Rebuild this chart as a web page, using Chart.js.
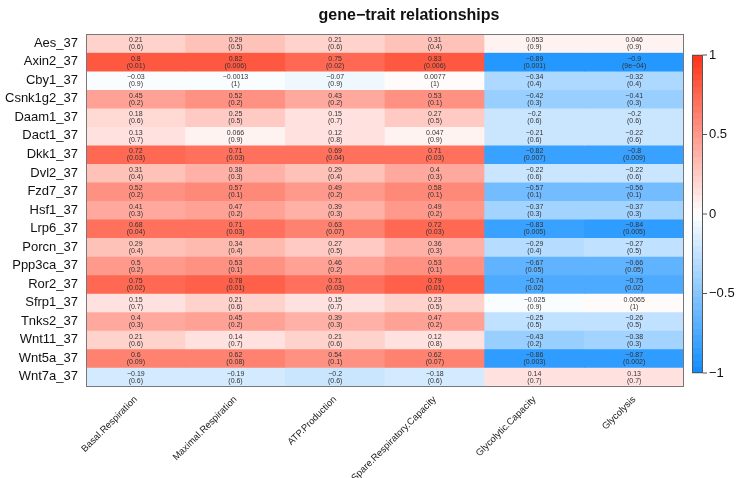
<!DOCTYPE html>
<html>
<head>
<meta charset="utf-8">
<script src="https://cdn.jsdelivr.net/npm/chart.js@4/dist/chart.umd.min.js"></script>
<style>
  html, body { margin: 0; padding: 0; background: #fff; }
  #wrap { width: 745px; height: 478px; }
</style>
</head>
<body>
<div id="wrap"><canvas id="heat"></canvas></div>
<script>
const genes = ['Aes_37', 'Axin2_37', 'Cby1_37', 'Csnk1g2_37', 'Daam1_37', 'Dact1_37', 'Dkk1_37', 'Dvl2_37', 'Fzd7_37', 'Hsf1_37',
  'Lrp6_37', 'Porcn_37', 'Ppp3ca_37', 'Ror2_37', 'Sfrp1_37', 'Tnks2_37', 'Wnt11_37', 'Wnt5a_37', 'Wnt7a_37'];
const traits = ['Basal.Respiration', 'Maximal.Respiration', 'ATP.Production', 'Spare.Respiratory.Capacity', 'Glycolytic.Capacity', 'Glycolysis'];

// correlation per trait (one value per gene, same order as genes)
const basalR = [0.21, 0.8, -0.03, 0.45, 0.18, 0.13, 0.72, 0.31, 0.52, 0.41, 0.68, 0.29, 0.5, 0.75, 0.15, 0.4, 0.21, 0.6, -0.19];
const maximalR = [0.29, 0.82, -0.0013, 0.52, 0.25, 0.066, 0.71, 0.38, 0.57, 0.47, 0.71, 0.34, 0.53, 0.78, 0.21, 0.45, 0.14, 0.62, -0.19];
const atpR = [0.21, 0.75, -0.07, 0.43, 0.15, 0.12, 0.69, 0.29, 0.49, 0.39, 0.63, 0.27, 0.46, 0.71, 0.15, 0.39, 0.21, 0.54, -0.2];
const spareR = [0.31, 0.83, 0.0077, 0.53, 0.27, 0.047, 0.71, 0.4, 0.58, 0.49, 0.72, 0.36, 0.53, 0.79, 0.23, 0.47, 0.12, 0.62, -0.18];
const glycoCapR = [0.053, -0.89, -0.34, -0.42, -0.2, -0.21, -0.82, -0.22, -0.57, -0.37, -0.83, -0.29, -0.67, -0.74, -0.025, -0.25, -0.43, -0.86, 0.14];
const glycoR = [0.046, -0.9, -0.32, -0.41, -0.2, -0.22, -0.8, -0.22, -0.56, -0.37, -0.84, -0.27, -0.66, -0.75, 0.0065, -0.26, -0.38, -0.87, 0.13];

// p-values as printed
const basalP = ['0.6', '0.01', '0.9', '0.2', '0.6', '0.7', '0.03', '0.4', '0.2', '0.3', '0.04', '0.4', '0.2', '0.02', '0.7', '0.3', '0.6', '0.09', '0.6'];
const maximalP = ['0.5', '0.006', '1', '0.2', '0.5', '0.9', '0.03', '0.3', '0.1', '0.2', '0.03', '0.4', '0.1', '0.01', '0.6', '0.2', '0.7', '0.08', '0.6'];
const atpP = ['0.6', '0.02', '0.9', '0.2', '0.7', '0.8', '0.04', '0.4', '0.2', '0.3', '0.07', '0.5', '0.2', '0.03', '0.7', '0.3', '0.6', '0.1', '0.6'];
const spareP = ['0.4', '0.006', '1', '0.1', '0.5', '0.9', '0.03', '0.3', '0.1', '0.2', '0.03', '0.3', '0.1', '0.01', '0.5', '0.2', '0.8', '0.07', '0.6'];
const glycoCapP = ['0.9', '0.001', '0.4', '0.3', '0.6', '0.6', '0.007', '0.6', '0.1', '0.3', '0.005', '0.4', '0.05', '0.02', '0.9', '0.5', '0.2', '0.003', '0.7'];
const glycoP = ['0.9', '9e-04', '0.4', '0.3', '0.6', '0.6', '0.009', '0.6', '0.1', '0.3', '0.005', '0.5', '0.05', '0.02', '1', '0.5', '0.3', '0.002', '0.7'];

const colorbarTicks = [1, 0.5, 0, -0.5, -1];

const corr = [basalR, maximalR, atpR, spareR, glycoCapR, glycoR];
const pvals = [basalP, maximalP, atpP, spareP, glycoCapP, glycoP];

const FONT = '"Liberation Sans", Arial, Helvetica, sans-serif';
const blueEnd = [13, 140, 255];
const redEnd = [255, 51, 23];

function minus(s) { return String(s).replace(/-/g, '\u2212'); }

// blue-white-red, 25 steps each side
function heatColor(v) {
  const s = Math.min(1, (Math.floor(Math.abs(v) * 25) + 0.5) / 25);
  const end = v < 0 ? blueEnd : redEnd;
  const c = end.map(e => Math.round(255 + (e - 255) * s));
  return `rgb(${c[0]},${c[1]},${c[2]})`;
}

const datasets = genes.map((g, i) => ({
  label: g,
  data: traits.map(() => 1),
  backgroundColor: traits.map((t, j) => heatColor(corr[j][i])),
  borderWidth: 0,
  barPercentage: 1,
  categoryPercentage: 1
}));

const cellText = {
  id: 'cellText',
  afterDatasetsDraw(chart) {
    const ctx = chart.ctx;
    ctx.save();
    ctx.fillStyle = '#333';
    ctx.font = '7px ' + FONT;
    ctx.textAlign = 'center';
    ctx.textBaseline = 'middle';
    genes.forEach((g, i) => {
      chart.getDatasetMeta(i).data.forEach((bar, j) => {
        const cy = (bar.y + bar.base) / 2;
        ctx.fillText(minus(corr[j][i]), bar.x, cy - 3);
        ctx.fillText('(' + minus(pvals[j][i]) + ')', bar.x, cy + 4);
      });
    });
    const a = chart.chartArea;
    ctx.strokeStyle = '#777';
    ctx.lineWidth = 1;
    ctx.strokeRect(a.left + 0.5, a.top + 0.5, a.right - a.left - 1, a.bottom - a.top);

    // title
    ctx.fillStyle = '#111';
    ctx.font = 'bold 16px ' + FONT;
    ctx.fillText('gene\u2212trait relationships', 409, 16);

    // colour bar
    const x0 = 692, x1 = 703, yTop = 55, yBot = 373;
    const n = 50;
    for (let k = 0; k < n; k++) {
      const vLo = -1 + 2 * k / n;
      const yb = yBot - (yBot - yTop) * k / n;
      const yt = yBot - (yBot - yTop) * (k + 1) / n;
      ctx.fillStyle = heatColor(vLo + 1 / n);
      ctx.fillRect(x0, yt - 0.3, x1 - x0, yb - yt + 0.6);
    }
    ctx.strokeStyle = '#555';
    ctx.strokeRect(x0 + 0.5, yTop + 0.5, x1 - x0 - 1, yBot - yTop - 1);
    ctx.fillStyle = '#111';
    ctx.font = '13px ' + FONT;
    ctx.textAlign = 'left';
    colorbarTicks.forEach(v => {
      const y = yBot - (yBot - yTop) * (v + 1) / 2;
      ctx.beginPath();
      ctx.moveTo(x1, y);
      ctx.lineTo(x1 + 4, y);
      ctx.stroke();
      ctx.fillText(minus(v), x1 + 6, y);
    });
    ctx.restore();
  }
};

new Chart(document.getElementById('heat'), {
  type: 'bar',
  data: { labels: traits, datasets },
  options: {
    responsive: true,
    maintainAspectRatio: false,
    animation: false,
    layout: { padding: { top: 34, right: 61, bottom: 0, left: 0 } },
    plugins: { legend: { display: false }, tooltip: { enabled: false }, title: { display: false } },
    scales: {
      x: {
        stacked: true,
        grid: { display: false },
        border: { display: false },
        ticks: { maxRotation: 45, minRotation: 45, padding: 0, color: '#222', font: { family: FONT, size: 9.5 } },
        afterFit: axis => { axis.height = 92; }
      },
      y: {
        stacked: true,
        reverse: true,
        min: 0,
        max: genes.length,
        grid: { display: false, drawTicks: false },
        border: { display: false },
        afterBuildTicks: axis => { axis.ticks = genes.map((g, i) => ({ value: i + 0.5 })); },
        ticks: {
          autoSkip: false,
          padding: 8,
          color: '#111',
          font: { family: FONT, size: 13 },
          callback: (v, i) => genes[i]
        },
        afterFit: axis => { axis.width = 86; }
      }
    }
  },
  plugins: [cellText]
});
</script>
</body>
</html>
